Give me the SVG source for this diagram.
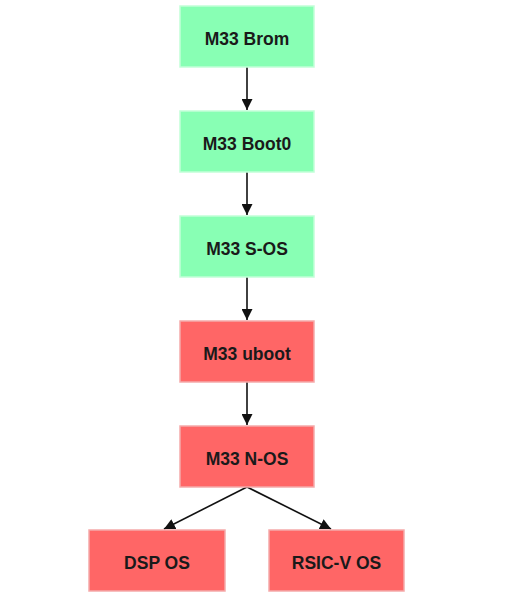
<svg xmlns="http://www.w3.org/2000/svg" width="508" height="612" viewBox="0 0 508 612">
<style>
.g{fill:#88FFB4;stroke:#C2FFD8;stroke-width:1.5}
.r{fill:#FF6666;stroke:#F5AAAA;stroke-width:1.5}
.t{font-family:"Liberation Sans",Arial,sans-serif;font-size:17.5px;font-weight:bold;fill:#1a1a1a;text-anchor:middle}
.e{stroke:#111;stroke-width:1.6;fill:none}
</style>
<defs>
<marker id="a" viewBox="0 0 10 10" refX="10" refY="5" markerWidth="11" markerHeight="11" orient="auto" markerUnits="userSpaceOnUse">
<path d="M0,0 L10,5 L0,10 Z" fill="#111"/>
</marker>
</defs>
<rect width="508" height="612" fill="#fff"/>
<g id="connectors">
<path class="e" d="M247,67 L247,110" marker-end="url(#a)"/>
<path class="e" d="M247,172 L247,215" marker-end="url(#a)"/>
<path class="e" d="M247,277 L247,320" marker-end="url(#a)"/>
<path class="e" d="M247,382 L247,425" marker-end="url(#a)"/>
<path class="e" d="M247,487 L164,529" marker-end="url(#a)"/>
<path class="e" d="M247,487 L331,529" marker-end="url(#a)"/>
</g>
<g id="brom"><rect class="g" x="180" y="6" width="134" height="61"/><text class="t" x="247" y="45">M33 Brom</text></g>
<g id="boot0"><rect class="g" x="180" y="111" width="134" height="61"/><text class="t" x="247" y="150">M33 Boot0</text></g>
<g id="sos"><rect class="g" x="180" y="216" width="134" height="61"/><text class="t" x="247" y="255">M33 S-OS</text></g>
<g id="uboot"><rect class="r" x="180" y="321" width="134" height="61"/><text class="t" x="247" y="360">M33 uboot</text></g>
<g id="nos"><rect class="r" x="180" y="426" width="134" height="61"/><text class="t" x="247" y="465">M33 N-OS</text></g>
<g id="dsp"><rect class="r" x="89" y="530" width="136" height="61"/><text class="t" x="157" y="569">DSP OS</text></g>
<g id="riscv"><rect class="r" x="269" y="530" width="135" height="61"/><text class="t" x="336.5" y="569">RSIC-V OS</text></g>
</svg>
